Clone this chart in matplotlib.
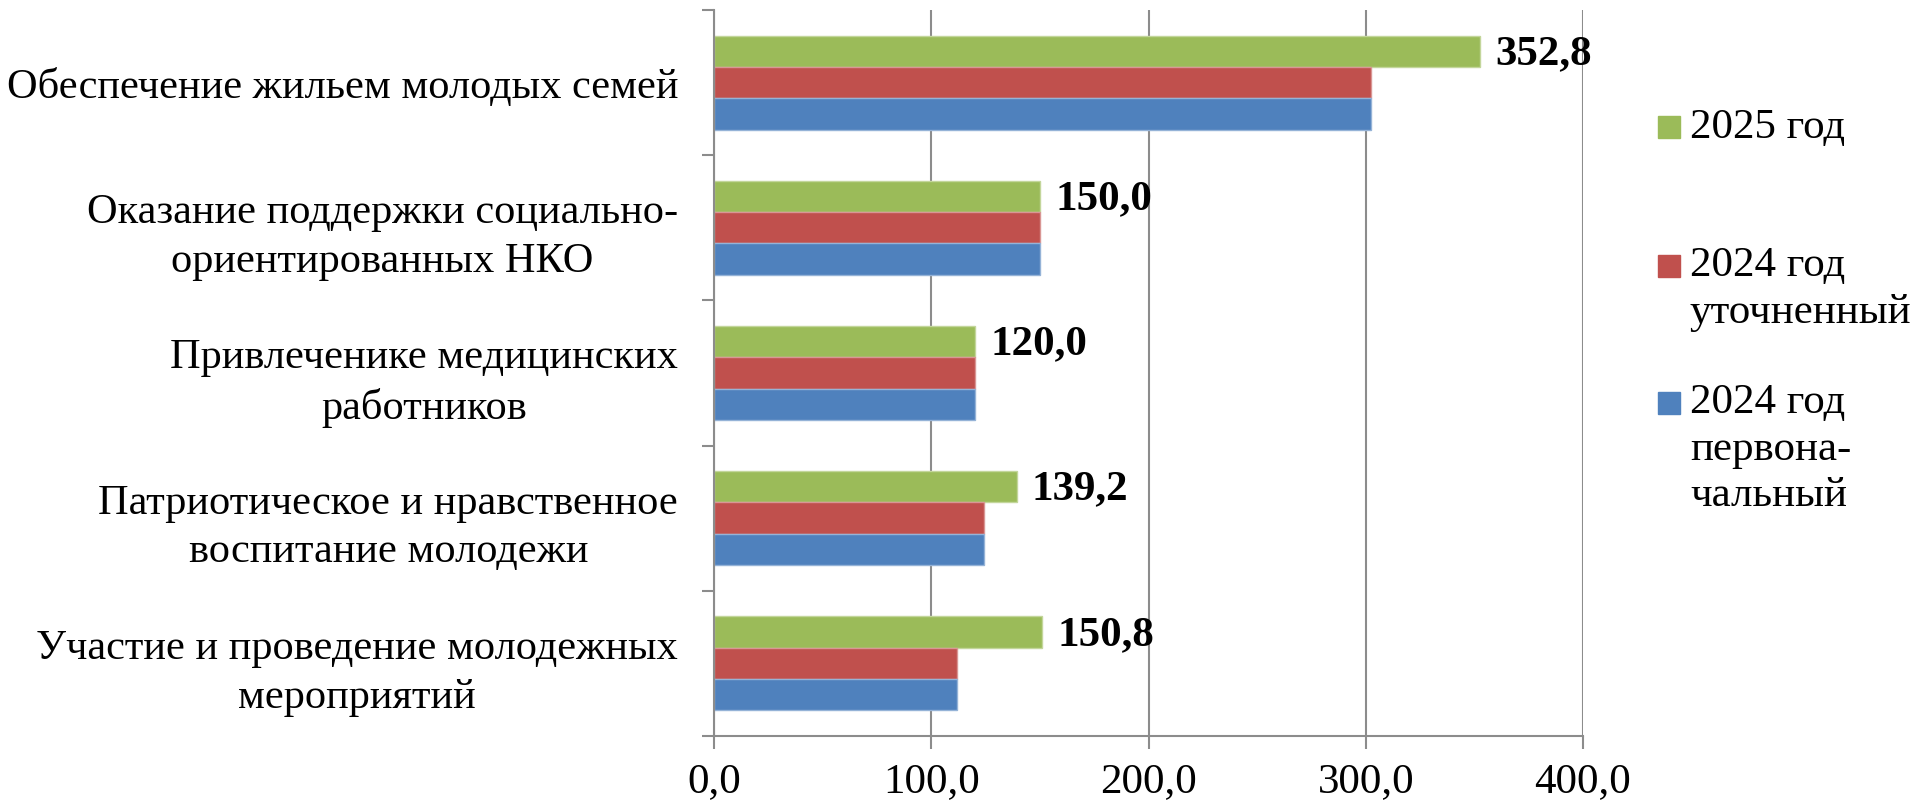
import numpy as np
import matplotlib.pyplot as plt
from matplotlib.patches import Rectangle

plt.rcParams['font.family'] = ['Liberation Serif', 'DejaVu Serif']

categories = [
    "Обеспечение жильем молодых семей",
    "Оказание поддержки социально-\nориентированных НКО",
    "Привлеченике медицинских\nработников",
    "Патриотическое и нравственное\nвоспитание молодежи",
    "Участие и проведение молодежных\nмероприятий",
]
series_names = ["2025 год", "2024 год\nуточненный", "2024 год\nпервона-\nчальный"]
values_2025 = [352.8, 150.0, 120.0, 139.2, 150.8]
values_2024_upd = [302.3, 150.0, 120.0, 124.3, 111.6]
values_2024_init = [302.3, 150.0, 120.0, 124.3, 111.6]
colors = ["#9BBB59", "#C0504D", "#4F81BD"]
edges = ["#c3d69b", "#d99694", "#95b3d7"]

fig = plt.figure(figsize=(19.15, 8.06), dpi=100)
ax = fig.add_axes([0.373, 0.087, 0.4536, 0.9006])

n = len(categories)
y = np.arange(n)
h = 0.216
all_series = [values_2025, values_2024_upd, values_2024_init]
for k, vals in enumerate(all_series):
    ax.barh(y + (k - 1) * h, vals, height=h, color=colors[k],
            edgecolor=edges[k], linewidth=1.0, zorder=3)

# data labels for 2025
for yi, v in zip(y, values_2025):
    ax.annotate(f"{v:.1f}".replace(".", ","), xy=(v, yi - h), xytext=(11, -2),
                textcoords="offset points", va="center", ha="left",
                fontsize=31, fontweight="bold", zorder=4)

ax.set_xlim(0, 400)
ax.set_ylim(n - 0.5, -0.5)
ticks = np.arange(0, 401, 100)
ax.set_xticks(ticks)
ax.set_xticklabels([f"{t:.1f}".replace(".", ",") for t in ticks])
ax.tick_params(axis="x", labelsize=31, length=9, width=1.5, color="#8c8c8c",
               direction="out", pad=10)

ax.set_yticks(np.arange(-0.5, n, 1.0))
ax.set_yticklabels([])
ax.set_yticks(y, minor=True)
ax.set_yticklabels(categories, minor=True, fontsize=30.5,
                   multialignment="center", linespacing=1.35)
ax.tick_params(axis="y", which="major", length=9, width=1.5, color="#8c8c8c")
ax.tick_params(axis="y", which="minor", length=0, pad=26)

ax.grid(axis="x", color="#8c8c8c", linewidth=1.5, zorder=0)
for s in ["top", "right"]:
    ax.spines[s].set_visible(False)
for s in ["left", "bottom"]:
    ax.spines[s].set_color("#8c8c8c")
    ax.spines[s].set_linewidth(1.5)
    ax.spines[s].set_zorder(5)

# legend, marker aligned with first line of each label
leg_y = [0.842, 0.670, 0.500]
for name, c, ly in zip(series_names, colors, leg_y):
    fig.patches.append(Rectangle((0.8658, ly - 0.0135), 0.0115, 0.027,
                                 transform=fig.transFigure, color=c))
    fig.text(0.8825, ly + 0.024, name, fontsize=31, va="top", ha="left",
             linespacing=1.27)

fig.savefig("out.png", dpi=100)
